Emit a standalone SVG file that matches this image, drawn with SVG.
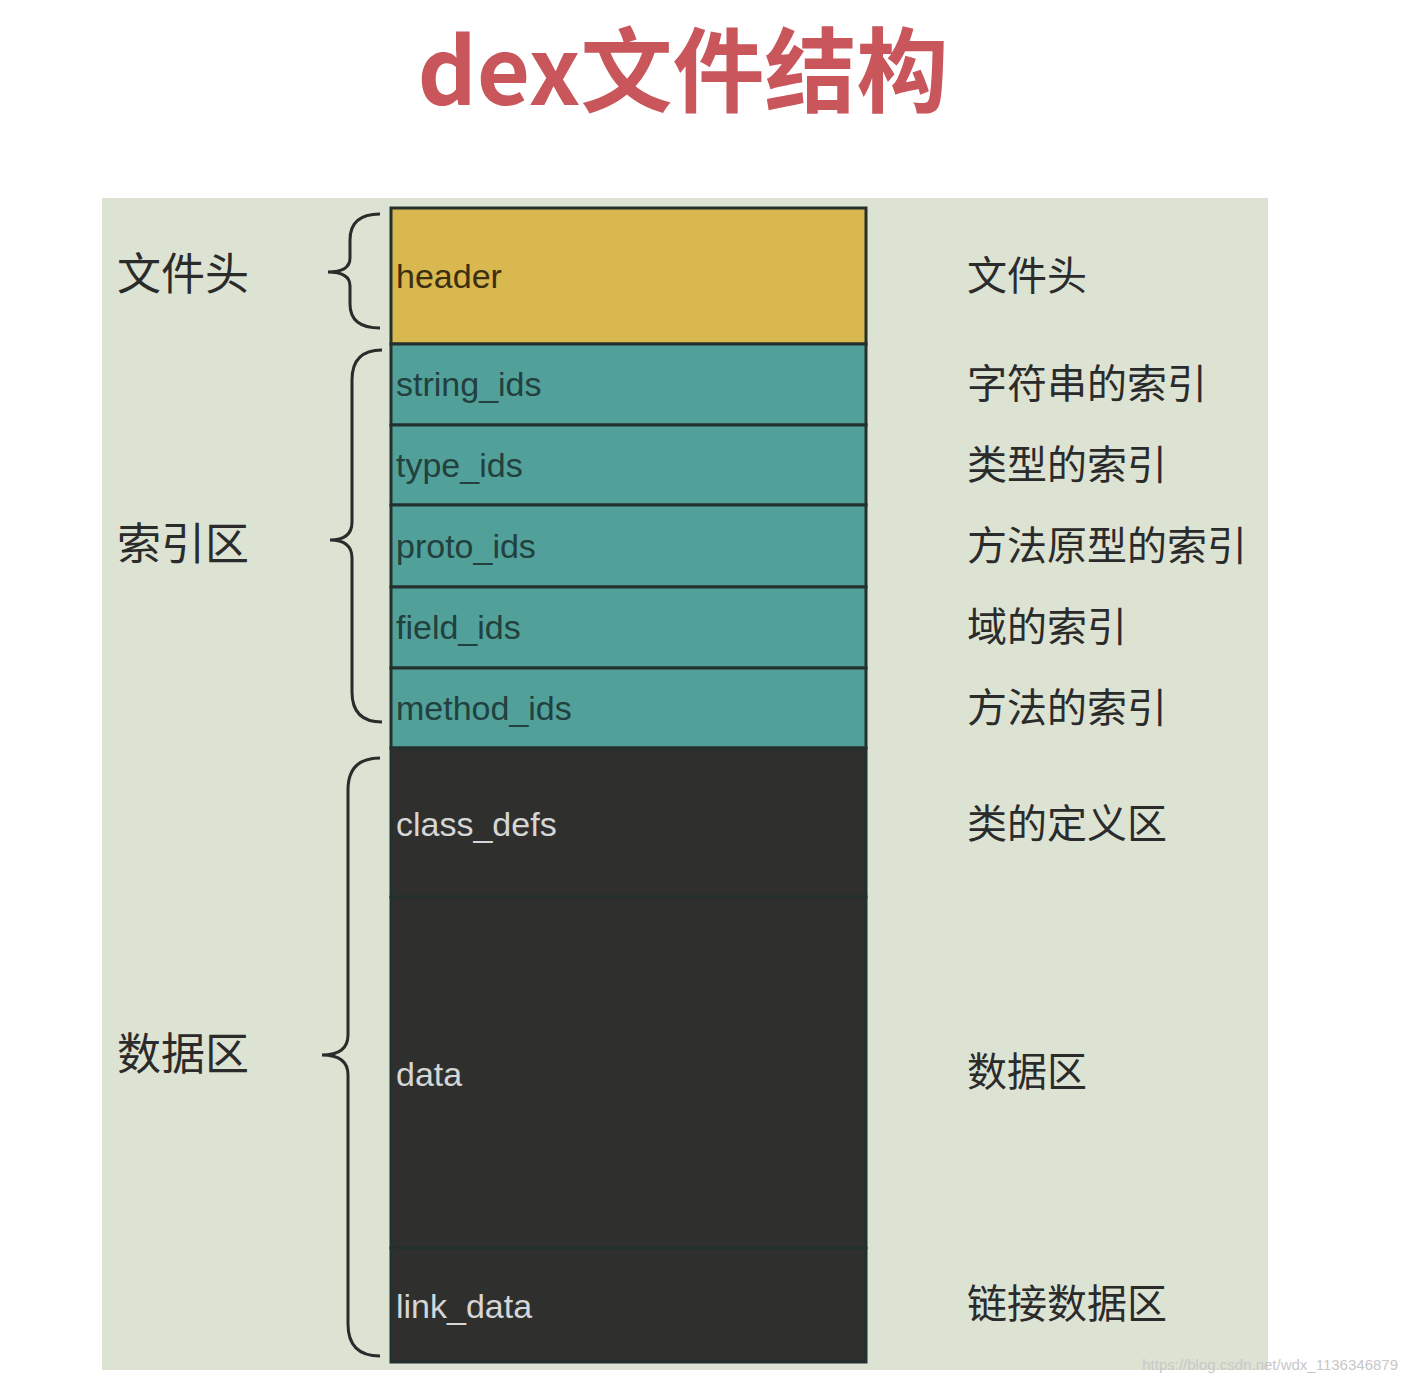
<svg xmlns="http://www.w3.org/2000/svg" width="1408" height="1384" viewBox="0 0 1408 1384">
<style>
.cell{stroke:#23302e;stroke-width:3}
.t{font-family:"Liberation Sans",Arial,sans-serif;font-size:34px}
.zh{font-family:"Noto Sans CJK SC",sans-serif;font-size:40px;fill:#2b2b2b}
.zl{font-family:"Noto Sans CJK SC",sans-serif;font-size:44px;fill:#2b2b2b}
.br{fill:none;stroke:#2b2b2b;stroke-width:3}
</style>
<rect width="1408" height="1384" fill="#ffffff"/>
<text x="683" y="105" text-anchor="middle" font-family="Noto Sans CJK SC,sans-serif" font-weight="bold" font-size="92" fill="#c9565b">dex文件结构</text>
<rect x="102" y="198" width="1166" height="1172" fill="#dce3d3"/>
<g id="header"><rect class="cell" x="391" y="208" width="475" height="136" fill="#d9b84f"/><text class="t" x="396" y="288" fill="#3b2f10">header</text></g>
<g id="string_ids"><rect class="cell" x="391" y="344" width="475" height="81" fill="#52a09a"/><text class="t" x="396" y="396" fill="#22403d">string_ids</text></g>
<g id="type_ids"><rect class="cell" x="391" y="425" width="475" height="80" fill="#52a09a"/><text class="t" x="396" y="477" fill="#22403d">type_ids</text></g>
<g id="proto_ids"><rect class="cell" x="391" y="505" width="475" height="82" fill="#52a09a"/><text class="t" x="396" y="558" fill="#22403d">proto_ids</text></g>
<g id="field_ids"><rect class="cell" x="391" y="587" width="475" height="81" fill="#52a09a"/><text class="t" x="396" y="639" fill="#22403d">field_ids</text></g>
<g id="method_ids"><rect class="cell" x="391" y="668" width="475" height="80" fill="#52a09a"/><text class="t" x="396" y="720" fill="#22403d">method_ids</text></g>
<g id="class_defs"><rect class="cell" x="391" y="748" width="475" height="149" fill="#2f302e"/><text class="t" x="396" y="836" fill="#d6d6d6">class_defs</text></g>
<g id="data"><rect class="cell" x="391" y="897" width="475" height="351" fill="#2f302e"/><text class="t" x="396" y="1086" fill="#d6d6d6">data</text></g>
<g id="link_data"><rect class="cell" x="391" y="1248" width="475" height="114" fill="#2f302e"/><text class="t" x="396" y="1318" fill="#d6d6d6">link_data</text></g>
<g id="left-labels">
<text class="zl" x="117" y="290">文件头</text>
<text class="zl" x="117" y="560">索引区</text>
<text class="zl" x="117" y="1070">数据区</text>
</g>
<g id="braces">
<path class="br" d="M380 214 Q350 214 350 240 L350 258 Q350 272 328 272 Q350 272 350 286 L350 304 Q350 328 380 328"/>
<path class="br" d="M382 350 Q352 350 352 380 L352 522 Q352 540 330 540 Q352 540 352 558 L352 692 Q352 722 382 722"/>
<path class="br" d="M380 758 Q348 758 348 790 L348 1035 Q348 1055 322 1055 Q348 1055 348 1075 L348 1324 Q348 1356 380 1356"/>
</g>
<g id="right-labels">
<text class="zh" x="967" y="290">文件头</text>
<text class="zh" x="967" y="398">字符串的索引</text>
<text class="zh" x="967" y="479">类型的索引</text>
<text class="zh" x="967" y="560">方法原型的索引</text>
<text class="zh" x="967" y="641">域的索引</text>
<text class="zh" x="967" y="722">方法的索引</text>
<text class="zh" x="967" y="838">类的定义区</text>
<text class="zh" x="967" y="1086">数据区</text>
<text class="zh" x="967" y="1318">链接数据区</text>
</g>
<text x="1398" y="1370" text-anchor="end" font-family="Liberation Sans,sans-serif" font-size="15" fill="#c8c8c8">https://blog.csdn.net/wdx_1136346879</text>
</svg>
